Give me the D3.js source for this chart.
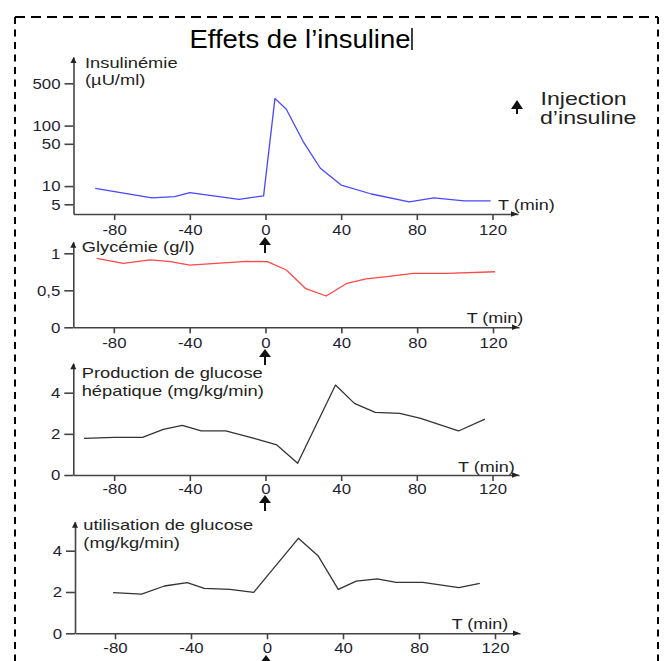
<!DOCTYPE html>
<html>
<head>
<meta charset="utf-8">
<script src="https://cdn.jsdelivr.net/npm/d3@7"></script>
<style>
  body { margin: 0; background: #fff; }
  svg { display: block; }
  text { font-family: "Liberation Sans", Arial, sans-serif; fill: #222; }
</style>
</head>
<body>
<svg width="666" height="661"></svg>
<script>
// time ticks shared by every panel
var xTicks = [-80, -40, 0, 40, 80, 120];

// insulinemie (µU/ml), log axis
var insulinT = [-90, -60, -48, -40, -14, -1, 5, 11, 20, 29, 40, 56, 76, 89, 105, 119];
var insulinV = [9.2, 6.4, 6.7, 7.8, 6.05, 6.9, 282, 186, 54, 19.7, 10.4, 7.4, 5.5, 6.4, 5.7, 5.7];
var insulinTicks = [5, 10, 50, 100, 500];

// glycemie (g/l)
var glyT = [-89, -75, -61, -50, -40, -10, 1, 11, 21, 32, 43, 53, 64, 78, 96, 121];
var glyV = [0.93, 0.865, 0.91, 0.887, 0.84, 0.89, 0.887, 0.774, 0.527, 0.423, 0.595, 0.653, 0.684, 0.73, 0.73, 0.751];
var glyTicks = [0, 0.5, 1];

// production de glucose hepatique (mg/kg/min)
var prodT = [-96, -80, -65, -54, -44, -34, -21, -6, 6, 17, 37, 47, 58, 71, 82, 102, 116];
var prodV = [1.78, 1.83, 1.83, 2.22, 2.41, 2.14, 2.14, 1.78, 1.46, 0.57, 4.37, 3.48, 3.04, 3.0, 2.75, 2.14, 2.72];
var prodTicks = [0, 2, 4];

// utilisation de glucose (mg/kg/min)
var utilT = [-81, -66, -54, -42, -33, -19.5, -7, 16.5, 27, 37.5, 47, 58, 68, 82, 101, 112];
var utilV = [1.97, 1.9, 2.29, 2.45, 2.18, 2.13, 1.98, 4.6, 3.74, 2.13, 2.53, 2.64, 2.47, 2.47, 2.21, 2.42];
var utilTicks = [0, 2, 4];

var svg = d3.select("svg");
var axisColor = "#444";

// the source picture is a bit wider than tall, so the text is stretched
function stretch(sel, k) {
  sel.each(function () {
    var w = this.getComputedTextLength();
    if (w > 0) {
      d3.select(this).attr("textLength", w * k).attr("lengthAdjust", "spacingAndGlyphs");
    }
  });
}

function injArrow(cx, top, w, h, len) {
  svg.append("path")
    .attr("d", "M" + (cx - w / 2) + "," + (top + h) + "L" + (cx + w / 2) + "," + (top + h) + "L" + cx + "," + top + "Z")
    .attr("fill", "#111");
  svg.append("line")
    .attr("x1", cx).attr("x2", cx)
    .attr("y1", top + h - 2).attr("y2", top + len)
    .attr("stroke", "#111").attr("stroke-width", 2);
}

// dashed frame
var frame = svg.append("g").attr("stroke", "#000").attr("stroke-width", 2);
frame.append("line").attr("x1", 15).attr("x2", 658).attr("y1", 17).attr("y2", 17).attr("stroke-dasharray", "10,6");
frame.append("line").attr("x1", 15).attr("x2", 15).attr("y1", 17).attr("y2", 661).attr("stroke-dasharray", "7,5.5");
frame.append("line").attr("x1", 658).attr("x2", 658).attr("y1", 17).attr("y2", 661).attr("stroke-dasharray", "7,5.5");

// title
svg.append("text")
  .attr("x", 300).attr("y", 39).attr("dy", "0.35em")
  .attr("text-anchor", "middle")
  .style("font-size", "25px")
  .style("fill", "#000")
  .text("Effets de l’insuline")
  .call(stretch, 1.1);
svg.append("line")
  .attr("x1", 412).attr("x2", 412).attr("y1", 28).attr("y2", 50)
  .attr("stroke", "#000").attr("stroke-width", 1.5);

// legend
injArrow(517, 100, 12, 9, 14);
svg.append("text").attr("x", 540.5).attr("y", 98.3).attr("dy", "0.35em")
  .style("font-size", "18.5px").text("Injection").call(stretch, 1.25);
svg.append("text").attr("x", 540).attr("y", 117.7).attr("dy", "0.35em")
  .style("font-size", "18.5px").text("d’insuline").call(stretch, 1.25);

var panels = [
  {
    t: insulinT, v: insulinV, ticks: insulinTicks, log: true,
    yCal: [5, 500], yPix: [204.3, 83.3],
    left: 73.5, right: 518, base: 214, top: 57, x0: 265.5, x120: 492.5, xPad: 4.75,
    color: "#4848ff",
    labels: [["Insulinémie", 85, 62.7], ["(µU/ml)", 85, 80]],
    tPos: [498, 205], arrow: [265, 237]
  },
  {
    t: glyT, v: glyV, ticks: glyTicks, log: false,
    yCal: [0, 1], yPix: [327.3, 253.3],
    left: 73.3, right: 519, base: 327.3, top: 241.7, x0: 265.5, x120: 493, xPad: 4.5,
    color: "#ff4848",
    labels: [["Glycémie (g/l)", 81.7, 246.7]],
    tPos: [466.7, 318], arrow: [265, 349]
  },
  {
    t: prodT, v: prodV, ticks: prodTicks, log: false,
    yCal: [0, 4], yPix: [475, 392.7],
    left: 73.3, right: 519, base: 475, top: 363.3, x0: 265.5, x120: 492.5, xPad: 2.5,
    color: "#333",
    labels: [["Production de glucose", 81.7, 372.7], ["hépatique (mg/kg/min)", 81.7, 390.7]],
    tPos: [458, 466.7], arrow: [265, 495]
  },
  {
    t: utilT, v: utilV, ticks: utilTicks, log: false,
    yCal: [0, 4], yPix: [633.3, 550.7],
    left: 75, right: 520, base: 633.3, top: 521.7, x0: 267, x120: 495, xPad: 3.5,
    color: "#333",
    labels: [["utilisation de glucose", 83.3, 525], ["(mg/kg/min)", 83.3, 542.7]],
    tPos: [451.7, 623.3], arrow: [266, 655]
  }
];

function tickText(d) {
  if (d === 0.5) return "0,5";
  return String(d);
}

panels.forEach(function (p) {
  var x = d3.scaleLinear().domain([0, 120]).range([p.x0, p.x120]);
  x.domain([x.invert(p.left), x.invert(p.right)]).range([p.left, p.right]);

  var y = (p.log ? d3.scaleLog() : d3.scaleLinear()).domain(p.yCal).range(p.yPix);
  y.domain([y.invert(p.base), y.invert(p.top)]).range([p.base, p.top]);

  var gx = svg.append("g")
    .attr("transform", "translate(0," + p.base + ")")
    .call(d3.axisBottom(x).tickValues(xTicks).tickSize(6).tickSizeOuter(0)
      .tickPadding(p.xPad).tickFormat(tickText));

  var gy = svg.append("g")
    .attr("transform", "translate(" + p.left + ",0)")
    .call(d3.axisLeft(y).tickValues(p.ticks).tickSize(9).tickSizeOuter(0)
      .tickPadding(4).tickFormat(tickText));

  [gx, gy].forEach(function (g) {
    g.selectAll("path, line").attr("stroke", axisColor).attr("stroke-width", 1.6);
    g.selectAll("text")
      .style("font-family", "'Liberation Sans', Arial, sans-serif")
      .style("font-size", "15px")
      .style("fill", "#1e1e30")
      .call(stretch, 1.12);
  });

  // arrow heads on the axes
  svg.append("path")
    .attr("d", "M" + (p.left - 3) + "," + (p.top + 6) + "L" + (p.left + 3) + "," + (p.top + 6) + "L" + p.left + "," + p.top + "Z")
    .attr("fill", "#222");
  svg.append("path")
    .attr("d", "M" + (p.right - 7) + "," + (p.base - 2.8) + "L" + (p.right - 7) + "," + (p.base + 2.8) + "L" + p.right + "," + p.base + "Z")
    .attr("fill", "#222");

  var pts = p.t.map(function (t, i) { return [t, p.v[i]]; });
  svg.append("path")
    .datum(pts)
    .attr("fill", "none")
    .attr("stroke", p.color)
    .attr("stroke-width", 1.3)
    .attr("stroke-linejoin", "round")
    .attr("d", d3.line().x(function (d) { return x(d[0]); }).y(function (d) { return y(d[1]); }));

  p.labels.forEach(function (l) {
    svg.append("text").attr("x", l[1]).attr("y", l[2]).attr("dy", "0.35em")
      .style("font-size", "15px").text(l[0]).call(stretch, 1.22);
  });

  svg.append("text").attr("x", p.tPos[0]).attr("y", p.tPos[1]).attr("dy", "0.35em")
    .style("font-size", "15px").text("T (min)").call(stretch, 1.2);

  injArrow(p.arrow[0], p.arrow[1], 12, 8, 16);
});
</script>
</body>
</html>
